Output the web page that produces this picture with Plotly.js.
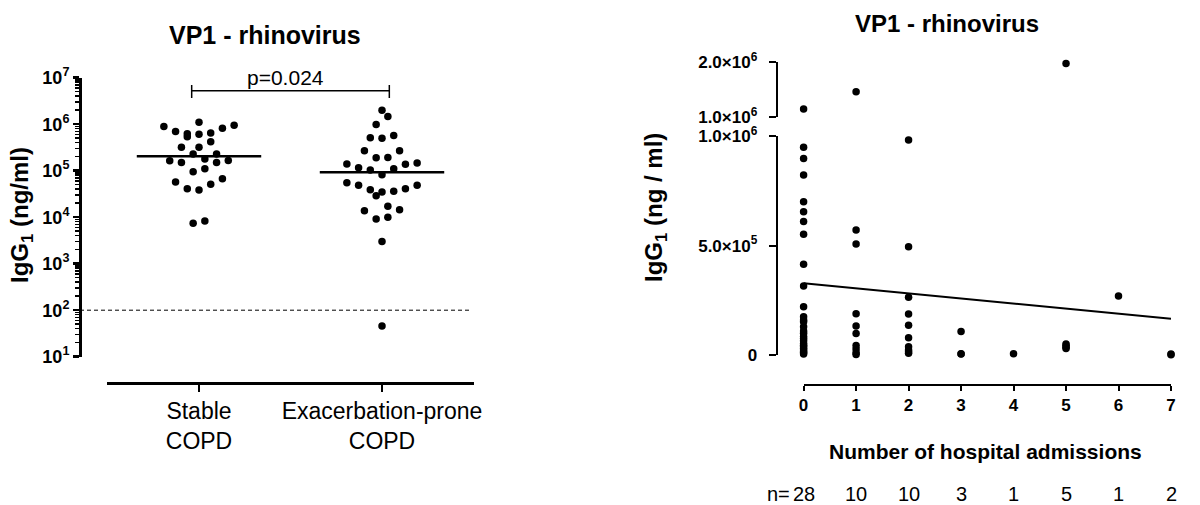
<!DOCTYPE html>
<html>
<head>
<meta charset="utf-8">
<script src="https://cdn.plot.ly/plotly-3.0.1.min.js"></script>
<style>
  body { margin: 0; background: #fff; }
  #chart { width: 1200px; height: 505px; }
</style>
</head>
<body>
<div id="chart"></div>
<script>
// ---------- left panel: IgG1 per group, log scale ----------
var groups = ['Stable<br>COPD', 'Exacerbation-prone<br>COPD'];

var stableIgG = [1100000, 950000, 890000, 820000, 700000, 650000, 620000, 610000, 540000, 420000,
                 320000, 320000, 230000, 230000, 178000, 166000, 164000, 151000, 151000, 110000,
                 95000, 67000, 57000, 51000, 41000, 38500, 8300, 7400];
// swarm column of each dot
var stableCol = [0, 6, -6, 4, -4, 2, -2, 0, -2, 2,
                 -3, 0, -1, 3, 1, 5, -5, -3, 3, 1,
                 -1, 4, -4, 2, -2, 0, 1, -1];

var exacIgG = [2000000, 1460000, 980000, 570000, 510000, 500000, 270000, 270000, 193000, 190000,
               146000, 139000, 137000, 116000, 110000, 103000, 82000, 55000, 48500, 48500,
               41000, 39000, 36000, 35000, 29000, 17200, 14400, 13700, 10000, 9200,
               3000, 46];
var exacCol = [0, 1, -1, 2, -2, 0, -3, 3, 1, -1,
               6, -6, 4, -4, 2, -2, 0, -6, -4, 6,
               4, -2, 2, 0, -1, 1, 3, -3, 1, -1,
               0, 0];

var detectionLimit = 100;
var pText = 'p=0.024';
var logTicks = [10, 100, 1000, 10000, 100000, 1000000, 10000000];
var logTickText = ['10<sup>1</sup>', '10<sup>2</sup>', '10<sup>3</sup>', '10<sup>4</sup>',
                   '10<sup>5</sup>', '10<sup>6</sup>', '10<sup>7</sup>'];

// ---------- right panel: IgG1 vs number of admissions ----------
var admissions = [
  0, 0, 0, 0, 0, 0, 0, 0, 0, 0, 0, 0, 0, 0, 0, 0, 0, 0, 0, 0, 0, 0, 0, 0, 0, 0, 0, 0,
  1, 1, 1, 1, 1, 1, 1, 1, 1, 1,
  2, 2, 2, 2, 2, 2, 2, 2, 2, 2,
  3, 3, 3,
  4,
  5, 5, 5, 5, 5,
  6,
  7, 7];
var admIgG = [
  1140000, 950000, 898000, 823000, 701000, 655000, 610000, 552000, 415000, 316000,
  221000, 175000, 160000, 152000, 129000, 110000, 99000, 85000, 76000, 65000,
  53000, 45000, 38000, 30000, 23000, 15000, 10000, 5000,
  1460000, 572000, 507000, 189000, 133000, 98000, 44000, 27000, 10000, 2000,
  983000, 495000, 264000, 187000, 136000, 79000, 38000, 23000, 15000, 8000,
  107000, 6000, 5000,
  6000,
  1980000, 50000, 44000, 36000, 30000,
  270000,
  5000, 1000];
var breakAt = 1000000;      // axis break between the two segments
var fitX = [0, 7];
var fitY = [328000, 166000];
var lowTicks = [0, 500000, 1000000];
var lowTickText = ['0', '5.0\u00d710<sup>5</sup>', '1.0\u00d710<sup>6</sup>'];
var upTicks = [1000000, 2000000];
var upTickText = ['1.0\u00d710<sup>6</sup>', '2.0\u00d710<sup>6</sup>'];

// ---------- helpers ----------
var W = 1200, H = 505;
function fx(p) { return p / W; }
function fy(p) { return 1 - p / H; }
var colStep = 0.032;

function median(a) {
    var s = a.slice().sort(function(p, q) { return p - q; });
    var m = Math.floor(s.length / 2);
    return s.length % 2 ? s[m] : (s[m - 1] + s[m]) / 2;
}

function swarmX(idx, cols) {
    return cols.map(function(c) { return idx + c * colStep; });
}

// annotation placed by pixel centre
function label(text, px, py, size, extra) {
    var a = { text: text, x: fx(px), y: fy(py), xref: 'paper', yref: 'paper',
              xanchor: 'center', yanchor: 'middle', showarrow: false, font: { size: size } };
    for (var key in extra) a[key] = extra[key];
    return a;
}

var dot = { color: 'black', size: 7.5 };
var lowX = [], lowY = [], upX = [], upY = [];
for (var i = 0; i < admIgG.length; i++) {
    if (admIgG[i] > breakAt) { upX.push(admissions[i]); upY.push(admIgG[i]); }
    else { lowX.push(admissions[i]); lowY.push(admIgG[i]); }
}

var medS = median(stableIgG), medE = median(exacIgG);

var data = [
    { x: swarmX(0, stableCol), y: stableIgG, type: 'scatter', mode: 'markers',
      marker: dot, cliponaxis: false, xaxis: 'x', yaxis: 'y', hoverinfo: 'y' },
    { x: swarmX(1, exacCol), y: exacIgG, type: 'scatter', mode: 'markers',
      marker: dot, cliponaxis: false, xaxis: 'x', yaxis: 'y', hoverinfo: 'y' },
    { x: [-0.34, 0.34], y: [medS, medS], type: 'scatter', mode: 'lines',
      line: { color: 'black', width: 2.5 }, xaxis: 'x', yaxis: 'y', hoverinfo: 'none' },
    { x: [0.66, 1.34], y: [medE, medE], type: 'scatter', mode: 'lines',
      line: { color: 'black', width: 2.5 }, xaxis: 'x', yaxis: 'y', hoverinfo: 'none' },

    { x: lowX, y: lowY, type: 'scatter', mode: 'markers',
      marker: dot, cliponaxis: false, xaxis: 'x2', yaxis: 'y2' },
    { x: upX, y: upY, type: 'scatter', mode: 'markers',
      marker: dot, cliponaxis: false, xaxis: 'x2', yaxis: 'y3' },
    { x: fitX, y: fitY, type: 'scatter', mode: 'lines',
      line: { color: 'black', width: 2 }, xaxis: 'x2', yaxis: 'y2', hoverinfo: 'none' }
];

var tickBold = { size: 17, weight: 'bold', color: 'black' };

var annotations = [
    label('<b>VP1 - rhinovirus</b>', 265, 35, 25),
    label('<b>VP1 - rhinovirus</b>', 947, 23, 24),
    label('<b>IgG<sub>1</sub> (ng/ml)</b>', 22, 215, 24, { textangle: -90 }),
    label('<b>IgG<sub>1</sub> (ng / ml)</b>', 656, 208, 24, { textangle: -90 }),
    label(pText, 285, 77, 21),
    label('<b>Number of hospital admissions</b>', 985, 451, 21),
    label('n=', 792, 494, 20, { xanchor: 'right' })
];

// n per admission count, from the data
for (var k = 0; k <= 7; k++) {
    var n = admissions.filter(function(a) { return a === k; }).length;
    annotations.push({ text: String(n), x: k, y: fy(494), xref: 'x2', yref: 'paper',
                       xanchor: 'center', yanchor: 'middle',
                       showarrow: false, font: { size: 20 } });
}

var shapes = [
    // detection limit
    { type: 'line', xref: 'paper', yref: 'y', x0: fx(80), x1: fx(470),
      y0: detectionLimit, y1: detectionLimit, line: { color: 'black', width: 1, dash: '4px,3px' } },
    // significance bracket
    { type: 'line', xref: 'x', yref: 'paper', x0: -0.04, x1: 1.04, y0: fy(90.7), y1: fy(90.7),
      line: { color: 'black', width: 1.5 } },
    { type: 'line', xref: 'x', yref: 'paper', x0: -0.04, x1: -0.04, y0: fy(85), y1: fy(98),
      line: { color: 'black', width: 1.5 } },
    { type: 'line', xref: 'x', yref: 'paper', x0: 1.04, x1: 1.04, y0: fy(85), y1: fy(98),
      line: { color: 'black', width: 1.5 } }
];

var layout = {
    width: W,
    height: H,
    margin: { l: 0, r: 0, t: 0, b: 0 },
    paper_bgcolor: 'white',
    plot_bgcolor: 'white',
    showlegend: false,
    font: { family: 'Liberation Sans, Arial, sans-serif', color: 'black' },
    xaxis: {
        domain: [fx(107), fx(474)], range: [-0.5027, 1.5027],
        anchor: 'free', position: fy(383),
        showline: true, linewidth: 2.5, linecolor: 'black',
        showgrid: false, zeroline: false,
        tickmode: 'array', tickvals: [0, 1], ticktext: groups,
        ticks: 'outside', ticklen: 7, tickwidth: 2.5, tickcolor: 'black',
        tickfont: { size: 23, color: 'black' }
    },
    yaxis: {
        type: 'log', domain: [fy(356.7), fy(77.7)], range: [1, 7],
        anchor: 'free', position: fx(80),
        showline: true, linewidth: 2.5, linecolor: 'black',
        showgrid: false, zeroline: false,
        tickmode: 'array', tickvals: logTicks, ticktext: logTickText,
        ticks: 'outside', ticklen: 6, tickwidth: 2.5, tickcolor: 'black',
        tickfont: { size: 18, weight: 'bold', color: 'black' },
        minor: { dtick: 'D1', ticks: 'outside', ticklen: 4, tickwidth: 1.5, tickcolor: 'black' }
    },
    xaxis2: {
        domain: [fx(803.6), fx(1171)], range: [0, 7],
        anchor: 'free', position: fy(385),
        showline: true, linewidth: 2, linecolor: 'black',
        showgrid: false, zeroline: false,
        dtick: 1, ticks: 'outside', ticklen: 5, tickwidth: 2, tickcolor: 'black',
        tickfont: tickBold
    },
    yaxis2: {
        domain: [fy(355), fy(136.3)], range: [0, breakAt],
        anchor: 'free', position: fx(776.7),
        showline: true, linewidth: 2, linecolor: 'black',
        showgrid: false, zeroline: false,
        tickmode: 'array', tickvals: lowTicks, ticktext: lowTickText,
        ticks: 'outside', ticklen: 7, tickwidth: 2, tickcolor: 'black',
        ticklabelstandoff: 8,
        tickfont: tickBold
    },
    yaxis3: {
        domain: [fy(116.7), fy(62.3)], range: [breakAt, 2000000],
        anchor: 'free', position: fx(776.7),
        showline: true, linewidth: 2, linecolor: 'black',
        showgrid: false, zeroline: false,
        tickmode: 'array', tickvals: upTicks, ticktext: upTickText,
        ticks: 'outside', ticklen: 7, tickwidth: 2, tickcolor: 'black',
        ticklabelstandoff: 8,
        tickfont: tickBold
    },
    annotations: annotations,
    shapes: shapes
};

Plotly.newPlot('chart', data, layout, { displayModeBar: false, staticPlot: true });
</script>
</body>
</html>
